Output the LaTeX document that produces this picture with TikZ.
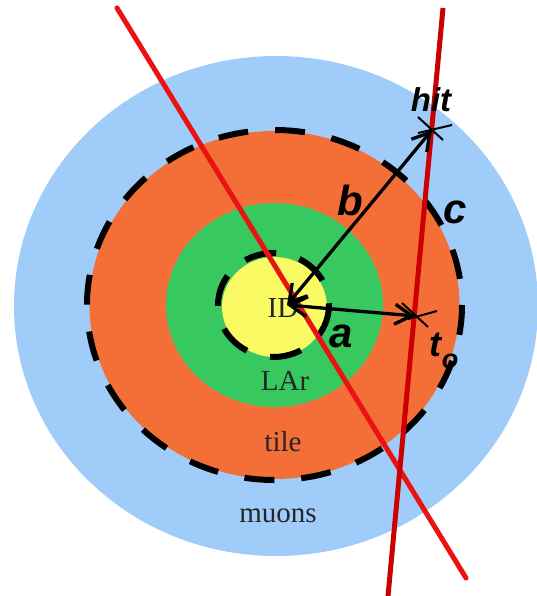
\documentclass[tikz,border=0pt]{standalone}
\usepackage{fontspec}
\setmainfont{Liberation Serif}
\newfontfamily\labelfont{Liberation Sans}
\usetikzlibrary{arrows.meta}
\definecolor{muonblue}{RGB}{160,204,250}
\definecolor{tileorange}{RGB}{244,110,56}
\definecolor{largreen}{RGB}{56,200,96}
\definecolor{idyellow}{RGB}{250,250,100}
\definecolor{trackred}{RGB}{236,18,18}
\definecolor{trackdark}{RGB}{204,0,0}
\tikzset{
  layertext/.style={inner sep=0pt, text=black!85, font=\fontsize{29}{32}\selectfont},
  biglabel/.style={inner sep=0pt, font=\labelfont\bfseries\itshape\fontsize{42}{46}\selectfont},
  dashring/.style={draw=black, line width=6pt, dash pattern=on 30pt off 27pt},
  track/.style={line width=5pt, line cap=round},
  dimarrow/.style={line width=3.3pt, {Straight Barb[length=17pt,width=20pt]}-{Straight Barb[length=17pt,width=20pt]}},
  marker/.style={line width=2pt, black},
}
\begin{document}
\begin{tikzpicture}[x=1pt,y=-1pt]
\useasboundingbox (0,0) rectangle (537,596);
% detector layers
\fill[muonblue] (276,306) ellipse [x radius=262, y radius=250];
\fill[tileorange] (274.5,305) ellipse [x radius=185, y radius=174];
\fill[largreen] (274.5,305) ellipse [x radius=108.5, y radius=102];
\fill[idyellow] (274.5,307) ellipse [x radius=52.5, y radius=50];
\draw[dashring] (274.5,305) ellipse [x radius=187.5, y radius=175];
\draw[dashring, dash pattern=on 32pt off 24pt] (273.5,305) ellipse [x radius=55.5, y radius=52];
% layer names
\node[layertext] (id) at (283,308) {ID};
\node[layertext] (lar) at (285,381) {LAr};
\node[layertext] (tile) at (283,442) {tile};
\node[layertext] (muons) at (278,516) {muons};
% key points
\coordinate (C) at (287,305);
\coordinate (H) at (432,130);
\coordinate (T) at (415,316);
% tracks
\coordinate (r1a) at (117,8);
\coordinate (r1b) at (466,578);
\coordinate (r2a) at (443,8);
\coordinate (r2b) at (388,596);
\draw[track, trackred] (r1a) -- (r1b);
\draw[track, trackdark, line cap=butt] (r2a) -- (r2b);
% distances
\draw[dimarrow] (C) -- (H);
\draw[dimarrow] (C) -- (T);
% markers
\draw[marker] ([shift={(-14,-13)}]H) -- ([shift={(11,10)}]H);
\draw[marker] ([shift={(-14,3)}]H) -- ([shift={(20,-5)}]H);
\draw[marker] ([shift={(-13,-13)}]T) -- ([shift={(13,11)}]T);
\draw[marker] ([shift={(-7,3)}]T) -- ([shift={(22,-5)}]T);
% labels
\node[biglabel, font=\labelfont\bfseries\itshape\fontsize{33}{36}\selectfont] (hit) at (431,100) {hit};
\node[biglabel] (b) at (350,200) {b};
\node[biglabel] (c) at (455,212) {c};
\node[biglabel] (a) at (341,336) {a};
\node[biglabel, font=\labelfont\bfseries\itshape\fontsize{36}{40}\selectfont] (t) at (435,345) {t};
\node[biglabel, font=\labelfont\bfseries\itshape\fontsize{27}{30}\selectfont] (o) at (450,361) {o};
\end{tikzpicture}
\end{document}
